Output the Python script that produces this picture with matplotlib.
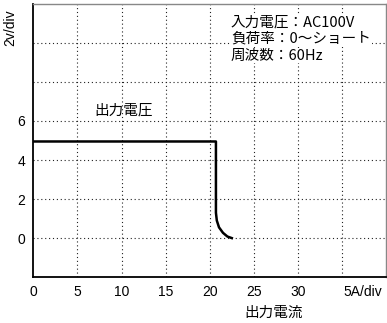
import matplotlib
matplotlib.use("Agg")
import matplotlib.pyplot as plt
import matplotlib.transforms as mtransforms

plt.rcParams['font.family'] = ['Liberation Sans', 'Noto Sans CJK JP', 'DejaVu Sans']

# output characteristic
current = [0, 20.7, 20.7, 20.8, 21.05, 21.5, 22.0, 22.5]
voltage = [4.95, 4.95, 1.3, 0.9, 0.55, 0.27, 0.08, 0.0]

x_ticks = [0, 5, 10, 15, 20, 25, 30]
y_ticks = [0, 2, 4, 6]
x_grid = [5, 10, 15, 20, 25, 30, 35]
y_grid = [0, 2, 4, 6, 8, 10]
info_lines = ["入力電圧：AC100V", "負荷率：0～ショート", "周波数：60Hz"]

fig = plt.figure(figsize=(3.87, 3.23), dpi=100)
ax = fig.add_axes([0.086, 0.142, 0.912, 0.846])
ax.set_xlim(0, 40)
ax.set_ylim(-2, 12)

for gx in x_grid:
    ax.axvline(gx, color='#222222', linestyle=(0, (1, 2.5)), linewidth=0.8, zorder=0)
for gy in y_grid:
    ax.axhline(gy, color='#222222', linestyle=(0, (1, 2.5)), linewidth=0.8, zorder=0)

ax.plot(current, voltage, color='black', linewidth=1.8, zorder=3,
        solid_joinstyle='round')

ax.set_xticks(x_ticks)
ax.set_yticks(y_ticks)
ax.tick_params(length=0, labelsize=10, pad=6)

for s in ['left', 'bottom']:
    ax.spines[s].set_color('black')
    ax.spines[s].set_linewidth(1.3)
for s in ['top', 'right']:
    ax.spines[s].set_color('#888888')
    ax.spines[s].set_linewidth(1.0)

jp = ['Noto Sans CJK JP', 'Liberation Sans']
trans = mtransforms.blended_transform_factory(ax.transData, ax.transAxes)
ax.text(37.4, -0.03, "5A/div", transform=trans, ha='center', va='top', fontsize=10)
ax.text(-0.045, 0.98, "2v/div", transform=ax.transAxes, rotation=90,
        ha='right', va='top', fontsize=10)
ax.text(10.2, 6.55, "出力電圧", ha='center', va='center', fontsize=10.5, family=jp)
ax.set_xlabel("出力電流", fontsize=10.5, family=jp)
ax.xaxis.set_label_coords(0.68, -0.105)

for i, line in enumerate(info_lines):
    ax.text(22.4, 11.05 - i * 0.85, line, ha='left', va='center', fontsize=10.5,
            family=jp, bbox=dict(facecolor='white', edgecolor='none', pad=0.5), zorder=2)

fig.savefig("out.png", dpi=100)
